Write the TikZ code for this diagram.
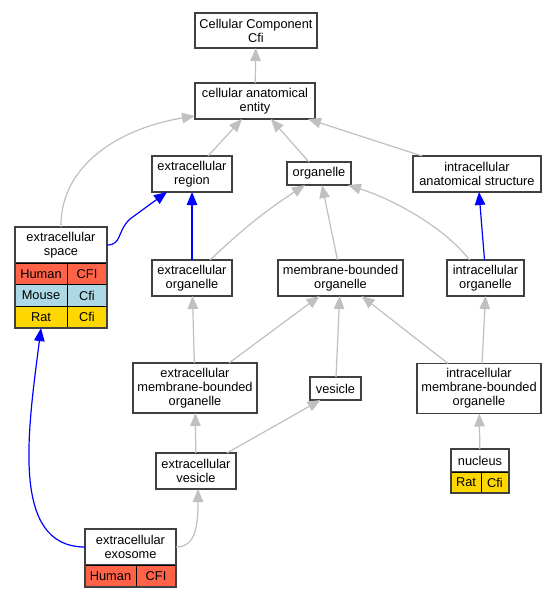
\documentclass[tikz,border=0pt]{standalone}
\usepackage{fontspec}
\setmainfont{Liberation Sans}
\usetikzlibrary{arrows.meta}

\definecolor{boxgray}{HTML}{404040}
\definecolor{isagray}{HTML}{C0C0C0}
\definecolor{human}{HTML}{FF6347}
\definecolor{mouse}{HTML}{ADD8E6}
\definecolor{rat}{HTML}{FFD700}

\tikzset{
  term/.style={shape=rectangle, draw=boxgray, line width=1.4pt, fill=white, align=center,
    inner sep=0pt, outer sep=0pt, font=\fontsize{12.8}{14}\selectfont},
  cell/.style={shape=rectangle, draw=black, line width=0.9pt, inner sep=0pt, outer sep=0pt,
    anchor=north west, font=\fontsize{12.8}{14}\selectfont},
  frame/.style={draw=boxgray, line width=1.4pt},
  isa/.style={draw=isagray, line width=1.2pt, -{Triangle[length=13pt,width=10.5pt]}},
  partof/.style={draw=blue, line width=1.2pt, -{Triangle[length=13pt,width=10.5pt]}},
}

\begin{document}
\begin{tikzpicture}[x=1pt, y=-1pt]
            \fill[white] (0,0) rectangle (557,597);
            \useasboundingbox (0,0) rectangle (557,597);

            \node[term, minimum width=122, minimum height=35] (cc) at (256,30.5) {Cellular Component\\Cfi};
            \node[term, minimum width=120, minimum height=36] (cae) at (255,101) {cellular anatomical\\entity};
            \node[term, minimum width=80, minimum height=36] (er) at (192,174) {extracellular\\region};
            \node[term, minimum width=64, minimum height=23] (org) at (319,173.5) {organelle};
            \node[term, minimum width=128, minimum height=36] (ias) at (477,174) {intracellular\\anatomical structure};
            \node[term, minimum width=80, minimum height=36] (eo) at (192,278) {extracellular\\organelle};
            \node[term, minimum width=125, minimum height=36] (mbo) at (340.5,278) {membrane-bounded\\organelle};
            \node[term, minimum width=77, minimum height=36] (io) at (485.5,278) {intracellular\\organelle};
            \node[term, minimum width=124, minimum height=50] (emb) at (195,388) {extracellular\\membrane-bounded\\organelle};
            \node[term, minimum width=51, minimum height=23] (ves) at (335.5,388.5) {vesicle};
            \node[term, minimum width=124, minimum height=50] (imbo) at (479,388.5) {intracellular\\membrane-bounded\\organelle};
            \node[term, minimum width=80, minimum height=36] (ev) at (196,471) {extracellular\\vesicle};

            % extracellular space with its table
            \node[term, minimum width=92, minimum height=36] (es) at (61,245) {extracellular\\space};
            \node[cell, fill=human, minimum width=52, minimum height=21.7] (esh1) at (es.south west) {Human};
            \node[cell, fill=human, minimum width=40, minimum height=21.7] (esh2) at (esh1.north east) {CFI};
            \node[cell, fill=mouse, minimum width=52, minimum height=21.7] (esm1) at (esh1.south west) {Mouse};
            \node[cell, fill=mouse, minimum width=40, minimum height=21.7] (esm2) at (esm1.north east) {Cfi};
            \node[cell, fill=rat, minimum width=52, minimum height=21.7] (esr1) at (esm1.south west) {Rat};
            \node[cell, fill=rat, minimum width=40, minimum height=21.7] (esr2) at (esr1.north east) {Cfi};
            \draw[frame] (es.north west) rectangle (esr2.south east);

            % nucleus
            \node[term, minimum width=58, minimum height=23] (nuc) at (480,460.5) {nucleus};
            \node[cell, fill=rat, minimum width=30, minimum height=21] (nucr1) at (nuc.south west) {Rat};
            \node[cell, fill=rat, minimum width=28, minimum height=21] (nucr2) at (nucr1.north east) {Cfi};
            \draw[frame] (nuc.north west) rectangle (nucr2.south east);

            % extracellular exosome
            \node[term, minimum width=91, minimum height=36] (exo) at (130.5,547) {extracellular\\exosome};
            \node[cell, fill=human, minimum width=51, minimum height=22] (exoh1) at (exo.south west) {Human};
            \node[cell, fill=human, minimum width=40, minimum height=22] (exoh2) at (exoh1.north east) {CFI};
            \draw[frame] (exo.north west) rectangle (exoh2.south east);

            % is_a
            \path (cae) edge[isa] (cc);
            \path ([xshift=16]er.north) edge[isa] ([xshift=-13]cae.south);
            \path ([xshift=-10]org.north) edge[isa] ([xshift=16]cae.south);
            \path ([xshift=-55]ias.north) edge[isa] ([xshift=-7]cae.south east);
            \draw[isa] (es.north) .. controls (60,165) and (120,128) .. ([yshift=-15]cae.west);
            \path ([xshift=18]eo.north) edge[isa, bend left=5] ([xshift=-14]org.south);
            \path ([xshift=-3]mbo.north) edge[isa] ([xshift=3]org.south);
            \draw[isa] ([xshift=-16]io.north) .. controls (445,228) and (395,200) .. ([xshift=-3]org.south east);
            \path (emb) edge[isa] (eo);
            \path ([xshift=34]emb.north) edge[isa] ([xshift=-21]mbo.south);
            \path (ves) edge[isa] (mbo);
            \path ([xshift=-31]imbo.north) edge[isa] ([xshift=21]mbo.south);
            \path ([xshift=3]imbo.north) edge[isa] (io.south);
            \path (ev) edge[isa] (emb);
            \path ([xshift=31]ev.north) edge[isa] ([xshift=-15]ves.south);
            \draw[isa] (exo.east) .. controls (196,547) and (198,525) .. ([xshift=2]ev.south);
            \path (nuc) edge[isa] (imbo);

            % part_of
            \draw[partof] (es.east) .. controls (122,245) and (117,231) .. (130,219) -- ([xshift=-25]er.south);
            \path (eo) edge[partof] (er);
            \path ([xshift=-1]io.north) edge[partof] ([xshift=2]ias.south);
            \draw[partof] (exo.west) .. controls (10,547) and (28,430) .. (esr1.south);
        \end{tikzpicture}
\end{document}
